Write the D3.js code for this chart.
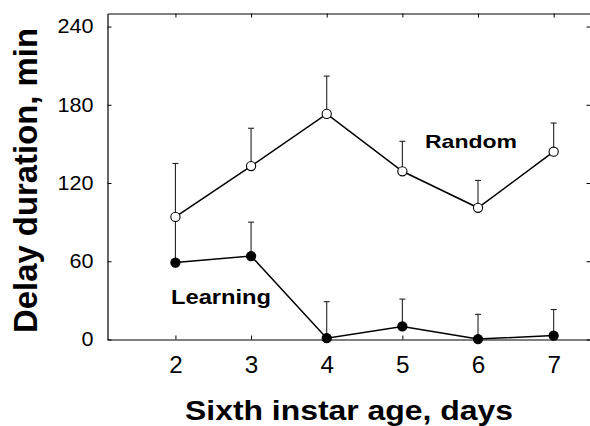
<!DOCTYPE html>
<html>
<head>
<meta charset="utf-8">
<script src="https://cdn.jsdelivr.net/npm/d3@7"></script>
<style>
  body { margin: 0; background: #fff; }
  text { font-family: "Liberation Sans", Arial, sans-serif; fill: #000; }
</style>
</head>
<body>
<svg id="chart" width="590" height="426"></svg>
<script>
// values
var days = [2, 3, 4, 5, 6, 7];
var randomMean = [94, 133, 173, 129, 101, 144];
var randomErr = [41, 29, 29, 23, 21, 22];
var learningMean = [59, 64, 1, 10, 0.3, 3];
var learningErr = [34, 26, 28, 21, 19, 20];
var yTicks = [0, 60, 120, 180, 240];

var svg = d3.select('#chart');

var x = d3.scaleLinear().domain([1.102, 7.487]).range([107.5, 590.5]);
var y = d3.scaleLinear().domain([0, 250]).range([339.5, 13.5]);

function styleAxis(g) {
  g.selectAll('path').attr('stroke', '#000').attr('stroke-width', 1.2);
  g.selectAll('line').attr('stroke', '#000');
}

// frame with inward ticks
svg.append('g')
  .attr('transform', `translate(0,${y(0)})`)
  .call(d3.axisBottom(x).tickValues(days).tickFormat(d3.format('d'))
    .tickSizeInner(-4).tickSizeOuter(0).tickPadding(17))
  .call(styleAxis)
  .call(g => g.selectAll('text')
    .attr('font-size', 23)
    .attr('font-family', '"Liberation Sans", Arial, sans-serif')
    .attr('textLength', 13.5)
    .attr('lengthAdjust', 'spacingAndGlyphs'));

svg.append('g')
  .attr('transform', `translate(0,${y.range()[1]})`)
  .call(d3.axisTop(x).tickValues(days).tickSizeInner(-4).tickSizeOuter(0).tickFormat(''))
  .call(styleAxis);

svg.append('g')
  .attr('transform', `translate(${x.range()[0]},0)`)
  .call(d3.axisLeft(y).tickValues(yTicks).tickSizeInner(-4).tickSizeOuter(0).tickPadding(14))
  .call(styleAxis)
  .call(g => g.selectAll('text')
    .attr('font-size', 20)
    .attr('font-family', '"Liberation Sans", Arial, sans-serif')
    .attr('textLength', d => String(d).length * 12)
    .attr('lengthAdjust', 'spacingAndGlyphs'));

svg.append('g')
  .attr('transform', `translate(${x.range()[1]},0)`)
  .call(d3.axisRight(y).tickValues(yTicks).tickSizeInner(-4).tickSizeOuter(0).tickFormat(''))
  .call(styleAxis);

var series = [
  {name: 'learning', mean: learningMean, err: learningErr, fill: '#000'},
  {name: 'random', mean: randomMean, err: randomErr, fill: '#fff'},
];

series.forEach(s => {
  var pts = days.map((d, i) => ({day: d, v: s.mean[i], e: s.err[i]}));

  var eb = svg.append('g').attr('class', 'err-' + s.name);
  eb.selectAll('line.stem')
    .data(pts)
    .enter()
    .append('line')
    .attr('class', 'stem')
    .attr('x1', d => x(d.day))
    .attr('x2', d => x(d.day))
    .attr('y1', d => y(d.v))
    .attr('y2', d => y(d.v + d.e))
    .attr('stroke', '#222')
    .attr('stroke-width', 1.1);
  eb.selectAll('line.cap')
    .data(pts)
    .enter()
    .append('line')
    .attr('class', 'cap')
    .attr('x1', d => x(d.day) - 3)
    .attr('x2', d => x(d.day) + 3)
    .attr('y1', d => y(d.v + d.e))
    .attr('y2', d => y(d.v + d.e))
    .attr('stroke', '#222')
    .attr('stroke-width', 1.1);
  s.pts = pts;
});

series.forEach(s => {
  svg.append('path')
    .datum(s.pts)
    .attr('fill', 'none')
    .attr('stroke', '#000')
    .attr('stroke-width', 1.5)
    .attr('d', d3.line().x(d => x(d.day)).y(d => y(d.v)));
});

series.forEach(s => {
  svg.append('g')
    .selectAll('circle')
    .data(s.pts)
    .enter()
    .append('circle')
    .attr('cx', d => x(d.day))
    .attr('cy', d => y(d.v))
    .attr('r', 4.6)
    .style('fill', s.fill)
    .style('stroke', '#000')
    .style('stroke-width', 1.1);
});

// series labels
svg.append('text')
  .attr('x', 425).attr('y', 148)
  .attr('font-size', 18.6).attr('font-weight', 'bold')
  .attr('textLength', 92).attr('lengthAdjust', 'spacingAndGlyphs')
  .text('Random');

svg.append('text')
  .attr('x', 171).attr('y', 304)
  .attr('font-size', 19.5).attr('font-weight', 'bold')
  .attr('textLength', 100).attr('lengthAdjust', 'spacingAndGlyphs')
  .text('Learning');

// axis titles
svg.append('text')
  .attr('x', 185).attr('y', 420)
  .attr('font-size', 28).attr('font-weight', 'bold')
  .attr('textLength', 328).attr('lengthAdjust', 'spacingAndGlyphs')
  .text('Sixth instar age, days');

svg.append('text')
  .attr('transform', 'translate(37,180.5) rotate(-90)')
  .attr('text-anchor', 'middle')
  .attr('font-size', 33).attr('font-weight', 'bold')
  .attr('textLength', 305).attr('lengthAdjust', 'spacingAndGlyphs')
  .text('Delay duration, min');
</script>
</body>
</html>
